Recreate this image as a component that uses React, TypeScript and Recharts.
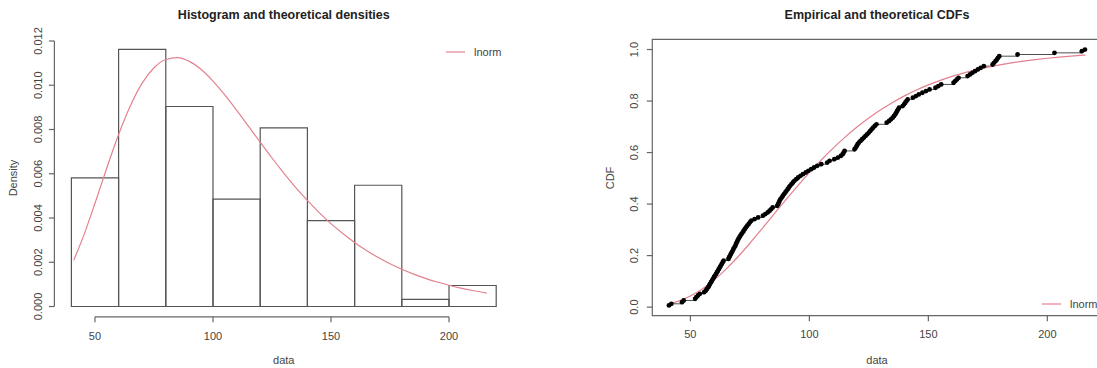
import React from 'react';
import { ComposedChart, Line, XAxis, YAxis, ReferenceArea, ReferenceLine } from 'recharts';

const FONT = '"Liberation Sans", Arial, Helvetica, sans-serif';

// Histogram bins (left panel)
const binStarts = [40, 60, 80, 100, 120, 140, 160, 180, 200];
const binEnds = [60, 80, 100, 120, 140, 160, 180, 200, 220];
const binDensities = [0.00581, 0.01162, 0.00904, 0.00485, 0.00807, 0.00388, 0.00548, 0.00032, 0.00095];

// Theoretical lnorm curve
const curveX = [41, 45, 50, 55, 60, 65, 70, 75, 80, 85, 90, 95, 100, 105, 110, 115, 120, 125, 130, 135, 140, 145, 150, 155, 160, 165, 170, 175, 180, 185, 190, 195, 200, 205, 210, 216];
const lnormDensity = [0.002092, 0.003148, 0.004666, 0.00626, 0.007771, 0.009075, 0.010094, 0.01079, 0.011165, 0.011248, 0.011079, 0.010709, 0.010188, 0.009562, 0.008871, 0.008149, 0.007423, 0.006712, 0.006031, 0.005389, 0.004793, 0.004246, 0.003747, 0.003298, 0.002894, 0.002534, 0.002215, 0.001932, 0.001684, 0.001465, 0.001274, 0.001106, 0.00096, 0.000833, 0.000722, 0.000608];
const lnormCdf = [0.013, 0.0234, 0.0429, 0.0702, 0.1054, 0.1476, 0.1956, 0.248, 0.303, 0.3592, 0.415, 0.4696, 0.5219, 0.5713, 0.6174, 0.66, 0.6989, 0.7342, 0.766, 0.7946, 0.82, 0.8426, 0.8626, 0.8802, 0.8956, 0.9092, 0.921, 0.9314, 0.9404, 0.9483, 0.9551, 0.961, 0.9662, 0.9707, 0.9746, 0.9785];

// Sorted sample values (empirical CDF points)
const sampleValues = [
  41.0, 42.0, 46.5, 47.2, 52.0, 52.5, 53.2, 54.0, 55.8, 56.5, 57.0, 57.5, 57.9, 58.3, 58.7, 59.1, 59.5, 59.9,
  60.3, 60.8, 61.2, 61.6, 62.0, 62.4, 62.8, 63.2, 63.6, 64.0,
  66.0, 66.3, 66.7, 67.0, 67.4, 67.8, 68.1, 68.5, 68.9, 69.2, 69.5, 69.8,
  70.2, 70.6, 71.0, 71.5, 72.0, 72.4, 72.9, 73.4, 73.9, 74.5, 75.0, 75.6,
  77.0, 78.5,
  80.5, 81.5, 82.5, 83.3, 84.0, 84.6,
  86.5, 86.9, 87.2, 87.5, 87.9, 88.4, 88.9, 89.4, 89.9, 90.4, 90.9, 91.4, 91.9, 92.5, 93.1, 93.7,
  94.5, 95.3, 96.3, 97.3, 98.5, 99.6,
  100.8, 102.0, 103.3, 105.0, 107.5, 108.5, 110.5, 112.0, 113.2, 114.0, 114.4, 114.8, 119.0, 119.5, 119.9,
  120.3, 120.8, 121.5, 122.2, 122.9, 123.6, 124.3, 125.0, 125.6, 126.2, 126.8, 127.5, 128.2,
  132.5, 133.5, 134.3, 135.0, 135.6, 136.1, 136.5, 136.9, 137.3, 137.7, 139.2, 139.8,
  140.3, 140.8, 141.3, 143.5, 144.8, 146.0, 147.5, 149.0, 150.5, 153.0, 154.2, 155.4,
  160.6, 161.3, 162.0, 162.7, 166.5, 167.5, 168.5, 169.6, 170.8, 172.0, 173.3, 177.0, 177.6, 178.2, 178.8, 179.3, 179.8,
  187.5, 203.0, 214.5, 215.8,
];

const xTicks = [50, 100, 150, 200];
const densityTicks = [0, 0.002, 0.004, 0.006, 0.008, 0.01, 0.012];
const cdfTicks = [0, 0.2, 0.4, 0.6, 0.8, 1.0];

const densityData = curveX.map((x, i) => ({ x, y: lnormDensity[i] }));
const cdfData = curveX.map((x, i) => ({ x, y: lnormCdf[i] }));
const ecdfData = sampleValues.map((x, i) => ({ x, y: (i + 1) / sampleValues.length }));

const LEFT_X = [32.8, 227.2];
const LEFT_Y = [-0.000465, 0.01209];
const RIGHT_X = [34.0, 222.8];
const RIGHT_Y = [-0.0333, 1.0397];

const AXIS = '#666';
const BAR = '#555';
const TXT = '#444';
const RED = '#E3818F';

const makeXTick = (dy: number) => (props: any) => (
  <text x={props.x} y={props.y + dy} textAnchor="middle" fontSize={11} fill={TXT} fontFamily={FONT}>
    {props.payload.value}
  </text>
);

const makeYTick = (dx: number, digits: number) => (props: any) => {
  const bx = props.x + dx;
  return (
    <text
      x={bx}
      y={props.y}
      transform={`rotate(-90 ${bx} ${props.y})`}
      textAnchor="middle"
      fontSize={11}
      fill={TXT}
      fontFamily={FONT}
    >
      {Number(props.payload.value).toFixed(digits)}
    </text>
  );
};

export default function App() {
  return (
    <div style={{ position: 'absolute', left: 0, top: 0, width: 1097, height: 368, overflow: 'hidden', background: '#fff' }}>
      <div style={{ position: 'absolute', left: 0, top: 0 }}>
        <ComposedChart width={548} height={368} margin={{ top: 39, right: 34.8, left: 14.4, bottom: 21.2 }}>
          <XAxis
            type="number"
            dataKey="x"
            domain={LEFT_X}
            allowDataOverflow
            ticks={xTicks}
            axisLine={false}
            tickLine={{ stroke: AXIS, strokeWidth: 1.2 }}
            tickSize={5.5}
            tickMargin={2}
            height={30}
            tick={makeXTick(15.2)}
          />
          <YAxis
            type="number"
            domain={LEFT_Y}
            allowDataOverflow
            ticks={densityTicks}
            axisLine={false}
            tickLine={{ stroke: AXIS, strokeWidth: 1.2 }}
            tickSize={5.5}
            tickMargin={2}
            width={40}
            tick={makeYTick(-4.4, 3)}
          />
          <ReferenceLine segment={[{ x: 50, y: LEFT_Y[0] }, { x: 200, y: LEFT_Y[0] }]} stroke={AXIS} strokeWidth={1.2} ifOverflow="visible" />
          <ReferenceLine segment={[{ x: LEFT_X[0], y: 0 }, { x: LEFT_X[0], y: 0.012 }]} stroke={AXIS} strokeWidth={1.2} ifOverflow="visible" />
          {binStarts.map((s, i) => (
            <ReferenceArea
              key={i}
              x1={s}
              x2={binEnds[i]}
              y1={0}
              y2={binDensities[i]}
              fill="#fff"
              fillOpacity={0}
              stroke={BAR}
              strokeWidth={1.2}
              ifOverflow="visible"
            />
          ))}
          <Line data={densityData} dataKey="y" type="monotone" stroke={RED} strokeWidth={1.2} dot={false} activeDot={false} isAnimationActive={false} />
        </ComposedChart>
      </div>
      <div style={{ position: 'absolute', left: 548, top: 0 }}>
        <ComposedChart width={600} height={368} margin={{ top: 39.3, right: 46.4, left: 64.3, bottom: 22.3 }}>
          <XAxis
            type="number"
            dataKey="x"
            domain={RIGHT_X}
            allowDataOverflow
            ticks={xTicks}
            axisLine={false}
            tickLine={{ stroke: AXIS, strokeWidth: 1.2 }}
            tickSize={5.5}
            tickMargin={2}
            height={30}
            tick={makeXTick(15.2)}
          />
          <YAxis
            type="number"
            domain={RIGHT_Y}
            allowDataOverflow
            ticks={cdfTicks}
            axisLine={false}
            tickLine={{ stroke: AXIS, strokeWidth: 1.2 }}
            tickSize={5.5}
            tickMargin={2}
            width={40}
            tick={makeYTick(-6.3, 1)}
          />
          <ReferenceArea
            x1={RIGHT_X[0]}
            x2={RIGHT_X[1]}
            y1={RIGHT_Y[0]}
            y2={RIGHT_Y[1]}
            fill="#fff"
            fillOpacity={0}
            stroke={AXIS}
            strokeWidth={1.2}
            ifOverflow="visible"
          />
          <Line
            data={ecdfData}
            dataKey="y"
            type="stepAfter"
            stroke="#222"
            strokeWidth={0.8}
            dot={{ r: 2.4, fill: '#000', stroke: 'none' }}
            activeDot={false}
            isAnimationActive={false}
          />
          <Line data={cdfData} dataKey="y" type="monotone" stroke={RED} strokeWidth={1.2} dot={false} activeDot={false} isAnimationActive={false} />
        </ComposedChart>
      </div>
      <svg width={1097} height={368} style={{ position: 'absolute', left: 0, top: 0, pointerEvents: 'none' }} fontFamily={FONT}>
        <text x={283.8} y={19} textAnchor="middle" fontSize={12.5} fontWeight="bold" fill="#222">Histogram and theoretical densities</text>
        <text x={877} y={19} textAnchor="middle" fontSize={12.5} fontWeight="bold" fill="#222">Empirical and theoretical CDFs</text>
        <text x={283.8} y={364} textAnchor="middle" fontSize={11} fill={TXT}>data</text>
        <text x={877} y={364} textAnchor="middle" fontSize={11} fill={TXT}>data</text>
        <text x={16.5} y={178} transform="rotate(-90 16.5 178)" textAnchor="middle" fontSize={11} fill={TXT}>Density</text>
        <text x={614} y={178} transform="rotate(-90 614 178)" textAnchor="middle" fontSize={11} fill={TXT}>CDF</text>
        <line x1={446} y1={52} x2={465} y2={52} stroke={RED} strokeWidth={1.2} />
        <text x={474} y={56} fontSize={11} fill={TXT}>lnorm</text>
        <line x1={1042} y1={304} x2={1061} y2={304} stroke={RED} strokeWidth={1.2} />
        <text x={1070} y={308} fontSize={11} fill={TXT}>lnorm</text>
      </svg>
    </div>
  );
}
